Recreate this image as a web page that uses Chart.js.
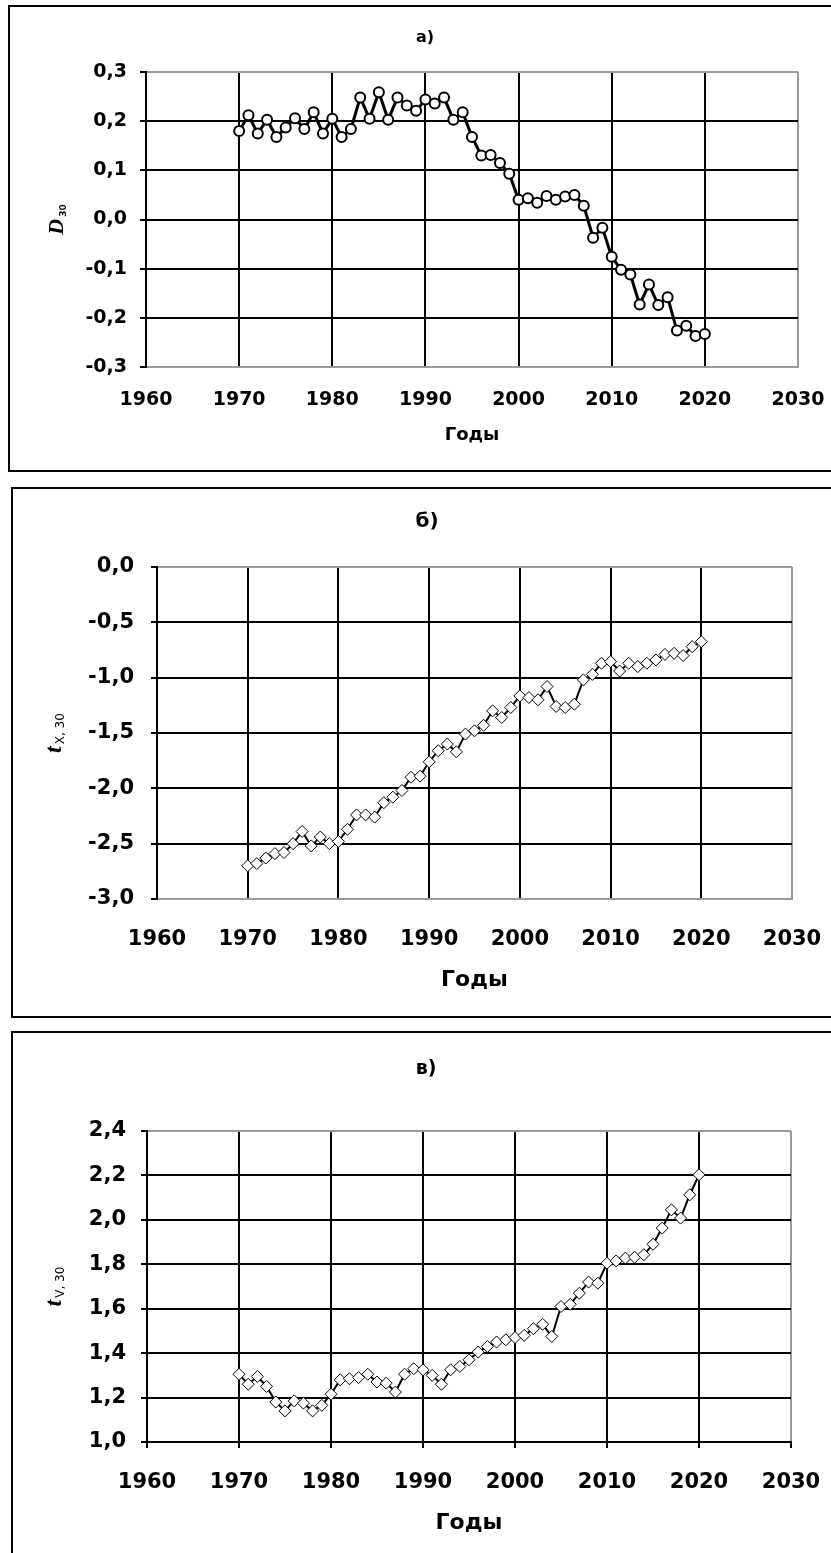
<!DOCTYPE html>
<html>
<head>
<meta charset="utf-8">
<script src="https://cdn.jsdelivr.net/npm/chart.js@4.4.0/dist/chart.umd.min.js"></script>
<style>
  html, body { margin: 0; padding: 0; background: #fff; overflow: hidden; width: 831px; height: 1553px; }
  .box { position: absolute; border: 2px solid #000; box-sizing: border-box; }
  canvas { position: absolute; left: 0; }
</style>
</head>
<body>
<div class="box" style="left:8px;top:5px;width:900px;height:467px"></div>
<div class="box" style="left:11px;top:487px;width:900px;height:531px"></div>
<div class="box" style="left:11px;top:1031px;width:900px;height:600px"></div>
<canvas id="chartD" width="831" height="480" style="top:0px"></canvas>
<canvas id="chartTx" width="831" height="540" style="top:480px"></canvas>
<canvas id="chartTv" width="831" height="533" style="top:1020px"></canvas>
<script>
// Years of observation
const years = [1970, 1971, 1972, 1973, 1974, 1975, 1976, 1977, 1978, 1979,
               1980, 1981, 1982, 1983, 1984, 1985, 1986, 1987, 1988, 1989,
               1990, 1991, 1992, 1993, 1994, 1995, 1996, 1997, 1998, 1999,
               2000, 2001, 2002, 2003, 2004, 2005, 2006, 2007, 2008, 2009,
               2010, 2011, 2012, 2013, 2014, 2015, 2016, 2017, 2018, 2019, 2020];

// а) D30
const dValues = [0.180, 0.212, 0.175, 0.203, 0.168, 0.187, 0.206, 0.184, 0.218, 0.175,
                 0.205, 0.168, 0.184, 0.248, 0.205, 0.259, 0.203, 0.248, 0.232, 0.221,
                 0.244, 0.236, 0.248, 0.203, 0.218, 0.168, 0.130, 0.131, 0.115, 0.093,
                 0.040, 0.043, 0.034, 0.048, 0.040, 0.047, 0.050, 0.028, -0.037, -0.017,
                 -0.076, -0.102, -0.112, -0.173, -0.132, -0.174, -0.158, -0.226, -0.216, -0.237, -0.233];

// б) tX,30
const txValues = [-2.70, -2.68, -2.63, -2.59, -2.58, -2.50, -2.39, -2.52, -2.44, -2.50,
                  -2.48, -2.37, -2.24, -2.24, -2.26, -2.13, -2.08, -2.02, -1.90, -1.89,
                  -1.76, -1.66, -1.60, -1.67, -1.51, -1.48, -1.43, -1.30, -1.36, -1.27,
                  -1.165, -1.18, -1.20, -1.08, -1.26, -1.27, -1.24, -1.02, -0.97, -0.87,
                  -0.855, -0.94, -0.87, -0.90, -0.87, -0.84, -0.79, -0.78, -0.80, -0.72, -0.675];

// в) tV,30
const tvValues = [1.305, 1.26, 1.295, 1.25, 1.18, 1.14, 1.185, 1.175, 1.14, 1.165,
                  1.215, 1.28, 1.285, 1.29, 1.305, 1.27, 1.265, 1.225, 1.305, 1.33,
                  1.325, 1.30, 1.26, 1.325, 1.34, 1.37, 1.405, 1.43, 1.45, 1.46,
                  1.47, 1.48, 1.51, 1.53, 1.475, 1.61, 1.62, 1.67, 1.72, 1.715,
                  1.805, 1.815, 1.828, 1.832, 1.843, 1.89, 1.963, 2.045, 2.008, 2.113, 2.203];

// Axis ranges and tick steps
const xRange = [1960, 2030];
const xStep = 10;
const dRange = [-0.3, 0.3];
const dStep = 0.1;
const txRange = [-3.0, 0.0];
const txStep = 0.5;
const tvRange = [1.0, 2.4];
const tvStep = 0.2;

// Panel captions
const panelTitles = ['а)', 'б)', 'в)'];
const xAxisTitle = 'Годы';

const BLACK = '#000';
const EDGE = '#9a9a9a';

function fmtComma(v) {
  if (Math.abs(v) < 1e-9) v = 0;
  return v.toFixed(1).replace('.', ',');
}

function makePanel(id, p) {
  const pts = years.map((yr, i) => ({ x: yr, y: p.values[i] }));
  const textPlugin = {
    id: 'panelText',
    afterDraw(chart) {
      const ctx = chart.ctx;
      const ca = chart.chartArea;
      ctx.save();
      ctx.fillStyle = BLACK;
      ctx.textAlign = 'center';
      ctx.textBaseline = 'middle';
      // panel caption
      ctx.font = p.titleFont;
      ctx.fillText(p.title, p.titleX, p.titleY);
      // x axis title
      ctx.font = p.xTitleFont;
      ctx.fillText(xAxisTitle, (ca.left + ca.right) / 2, p.xTitleY);
      // rotated y axis title with subscript
      ctx.translate(p.yTitleX, (ca.top + ca.bottom) / 2);
      ctx.rotate(-Math.PI / 2);
      ctx.textAlign = 'left';
      ctx.textBaseline = 'alphabetic';
      ctx.font = p.yMainFont;
      const wMain = ctx.measureText(p.yMain).width;
      ctx.font = p.ySubFont;
      const wSub = ctx.measureText(p.ySub).width;
      const total = wMain + 2 + wSub;
      ctx.font = p.yMainFont;
      ctx.fillText(p.yMain, -total / 2, 7);
      ctx.font = p.ySubFont;
      ctx.fillText(p.ySub, -total / 2 + wMain + 2, 10);
      ctx.restore();
    }
  };

  return new Chart(document.getElementById(id), {
    type: 'line',
    data: {
      datasets: [{
        data: pts,
        borderColor: BLACK,
        borderWidth: p.lineWidth,
        pointStyle: p.pointStyle,
        pointRadius: p.pointRadius,
        pointBorderWidth: p.pointBorder,
        pointBorderColor: BLACK,
        pointBackgroundColor: '#fff',
        tension: 0,
        fill: false,
        clip: false
      }]
    },
    options: {
      responsive: false,
      animation: false,
      events: [],
      layout: { padding: { top: p.top, right: p.right, bottom: 0, left: 0 } },
      plugins: { legend: { display: false }, title: { display: false }, tooltip: { enabled: false } },
      scales: {
        x: {
          type: 'linear',
          min: xRange[0], max: xRange[1],
          afterFit(s) {
            s.height = p.xHeight;
            s.paddingLeft = 0; s.paddingRight = 0;
          },
          grid: {
            color: c => (c.tick && c.tick.value === xRange[1]) ? EDGE : BLACK,
            lineWidth: 2,
            drawTicks: p.xTicks,
            tickLength: 6,
            tickColor: BLACK
          },
          border: { display: true, color: p.bottomColor, width: 2 },
          ticks: {
            stepSize: xStep,
            autoSkip: false,
            maxRotation: 0,
            padding: p.xPad,
            color: BLACK,
            font: p.tickFont,
            callback: v => String(v)
          }
        },
        y: {
          type: 'linear',
          min: p.range[0], max: p.range[1],
          afterFit(s) {
            s.width = p.left;
            s.paddingTop = 0; s.paddingBottom = 0;
          },
          grid: {
            color: c => {
              if (!c.tick) return BLACK;
              if (Math.abs(c.tick.value - p.range[1]) < 1e-9) return EDGE;
              if (Math.abs(c.tick.value - p.range[0]) < 1e-9) return p.bottomColor;
              return BLACK;
            },
            lineWidth: 2,
            drawTicks: true,
            tickLength: 6,
            tickColor: BLACK
          },
          border: { display: true, color: BLACK, width: 2 },
          ticks: {
            stepSize: p.step,
            padding: p.yPad,
            color: BLACK,
            font: p.tickFont,
            callback: v => fmtComma(v)
          }
        }
      }
    },
    plugins: [textPlugin]
  });
}

const tickFamily = "'DejaVu Sans', 'Liberation Sans', sans-serif";

makePanel('chartD', {
  values: dValues, range: dRange, step: dStep,
  left: 146, right: 33, top: 72, xHeight: 113,
  xTicks: false, xPad: 22, yPad: 13, bottomColor: EDGE,
  tickFont: { family: tickFamily, size: 19, weight: 'bold' },
  lineWidth: 3, pointStyle: 'circle', pointRadius: 5, pointBorder: 2,
  title: panelTitles[0], titleX: 425, titleY: 38, titleFont: "bold 16px " + tickFamily,
  xTitleY: 435, xTitleFont: "bold 18px " + tickFamily,
  yTitleX: 56, yMain: 'D', ySub: '30',
  yMainFont: "bold italic 22px 'Liberation Serif', serif", ySubFont: "bold 9px " + tickFamily
});

makePanel('chartTx', {
  values: txValues, range: txRange, step: txStep,
  left: 157, right: 39, top: 87, xHeight: 121,
  xTicks: false, xPad: 28, yPad: 17, bottomColor: EDGE,
  tickFont: { family: tickFamily, size: 21, weight: 'bold' },
  lineWidth: 2, pointStyle: 'rectRot', pointRadius: 6, pointBorder: 1,
  title: panelTitles[1], titleX: 427, titleY: 42, titleFont: "bold 20px " + tickFamily,
  xTitleY: 500, xTitleFont: "bold 22px " + tickFamily,
  yTitleX: 54, yMain: 't', ySub: 'X, 30',
  yMainFont: "bold italic 24px 'Liberation Serif', serif", ySubFont: "12px " + tickFamily
});

makePanel('chartTv', {
  values: tvValues, range: tvRange, step: tvStep,
  left: 147, right: 40, top: 111, xHeight: 111,
  xTicks: true, xPad: 22, yPad: 15, bottomColor: BLACK,
  tickFont: { family: tickFamily, size: 21, weight: 'bold' },
  lineWidth: 2, pointStyle: 'rectRot', pointRadius: 6, pointBorder: 1,
  title: panelTitles[2], titleX: 426, titleY: 49, titleFont: "bold 19px " + tickFamily,
  xTitleY: 503, xTitleFont: "bold 22px " + tickFamily,
  yTitleX: 54, yMain: 't', ySub: 'V, 30',
  yMainFont: "bold italic 24px 'Liberation Serif', serif", ySubFont: "12px " + tickFamily
});
</script>
</body>
</html>
